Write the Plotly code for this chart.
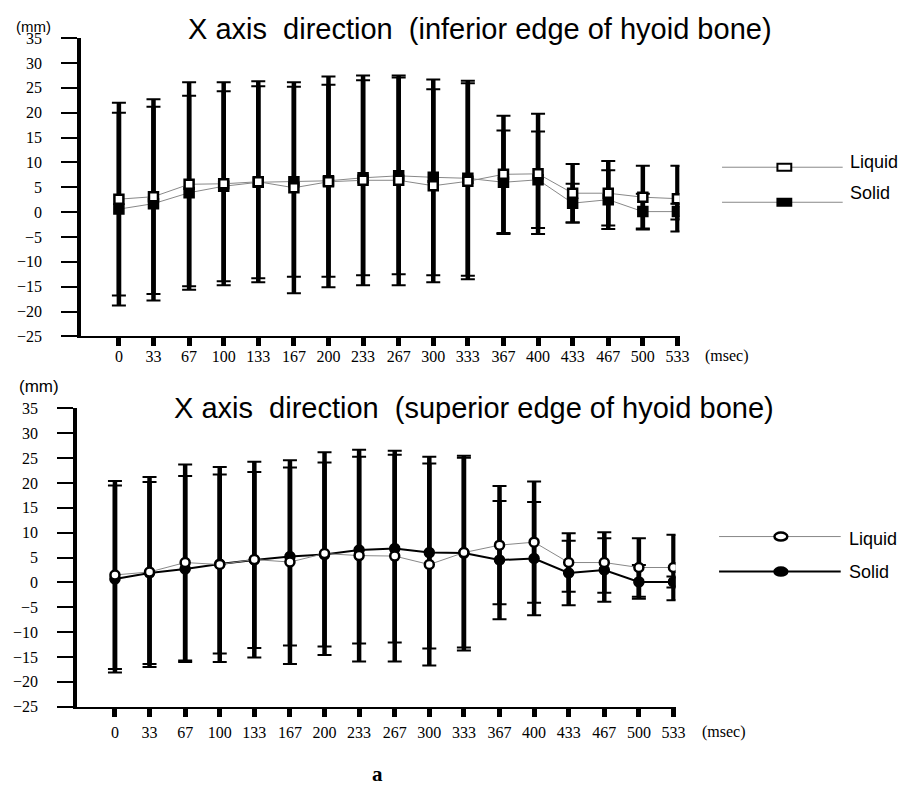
import plotly.graph_objects as go

W, H = 907, 785

time_ms = [0, 33, 67, 100, 133, 167, 200, 233, 267, 300, 333, 367, 400, 433, 467, 500, 533]
tick_labels = [str(t) for t in time_ms]
y_ticks = [-25, -20, -15, -10, -5, 0, 5, 10, 15, 20, 25, 30, 35]

# Top chart: inferior edge of hyoid bone
inf_liquid = [2.6, 3.1, 5.6, 5.7, 6.1, 4.9, 6.1, 6.4, 6.4, 5.3, 6.2, 7.6, 7.7, 3.8, 3.8, 3.0, 2.7]
inf_liquid_sd = [19.4, 19.6, 20.5, 20.4, 20.2, 21.2, 21.2, 21.1, 21.1, 19.4, 19.7, 11.8, 12.1, 5.9, 6.5, 6.3, 6.6]
inf_solid = [0.6, 1.7, 3.9, 5.2, 6.0, 6.1, 6.3, 6.9, 7.3, 7.0, 6.8, 6.0, 6.5, 1.8, 2.5, 0.1, 0.1]
inf_solid_sd = [19.4, 19.5, 19.5, 19.1, 19.3, 19.1, 19.3, 19.6, 19.8, 19.7, 19.6, 10.4, 9.7, 3.9, 5.9, 3.6, 1.6]

# Bottom chart: superior edge of hyoid bone
sup_liquid = [1.5, 2.1, 4.0, 3.6, 4.6, 4.1, 5.8, 5.4, 5.3, 3.6, 6.0, 7.5, 8.1, 4.0, 4.0, 3.0, 3.0]
sup_liquid_sd = [18.9, 19.1, 19.7, 19.6, 19.7, 20.5, 20.4, 21.3, 21.2, 20.3, 19.1, 11.9, 12.2, 5.9, 6.1, 5.9, 6.6]
sup_solid = [0.7, 1.9, 2.7, 3.7, 4.5, 5.2, 5.6, 6.5, 6.8, 6.0, 5.9, 4.5, 4.8, 1.9, 2.5, 0.1, 0.1]
sup_solid_sd = [18.8, 18.3, 18.7, 18.0, 17.7, 17.9, 18.5, 18.8, 18.9, 19.3, 19.6, 11.9, 11.4, 6.5, 6.4, 3.4, 1.1]

SERIF = "Liberation Serif, Times New Roman, serif"
SANS = "Liberation Sans, Arial, Helvetica, sans-serif"
NB = "\u00a0"


def px(x):
    return (x - 3) / W


def py(y):
    return 1 - ((y - 16.9) / 0.9775) / H


fig = go.Figure()


def add_panel(xa, ya, liq, liq_sd, sol, sol_sd, symbol, solid_line):
    # error bars first (underneath): thick stems, then thin caps
    for vals, sd in ((liq, liq_sd), (sol, sol_sd)):
        fig.add_trace(go.Scatter(
            x=time_ms, y=vals, mode="markers", xaxis=xa, yaxis=ya,
            marker=dict(size=1, color="rgba(0,0,0,0)"),
            error_y=dict(type="data", array=sd, visible=True, color="black",
                         thickness=4.5, width=0),
            showlegend=False, hoverinfo="skip"))
        fig.add_trace(go.Scatter(
            x=time_ms, y=vals, mode="markers", xaxis=xa, yaxis=ya,
            marker=dict(size=1, color="rgba(0,0,0,0)"),
            error_y=dict(type="data", array=sd, visible=True, color="black",
                         thickness=2, width=7),
            showlegend=False, hoverinfo="skip"))
    fig.add_trace(go.Scatter(
        x=time_ms, y=sol, mode="lines+markers", xaxis=xa, yaxis=ya, name="Solid",
        line=solid_line,
        marker=dict(symbol=symbol, size=10, color="black",
                    line=dict(color="black", width=1.5)),
        showlegend=False))
    fig.add_trace(go.Scatter(
        x=time_ms, y=liq, mode="lines+markers", xaxis=xa, yaxis=ya, name="Liquid",
        line=dict(color="#888888", width=1),
        marker=dict(symbol=symbol, size=9, color="white",
                    line=dict(color="black", width=2.5)),
        showlegend=False))


add_panel("x", "y", inf_liquid, inf_liquid_sd, inf_solid, inf_solid_sd,
          "square", dict(color="#888888", width=1))
add_panel("x2", "y2", sup_liquid, sup_liquid_sd, sup_solid, sup_solid_sd,
          "circle", dict(color="black", width=2))

xaxis_common = dict(range=[-36, 535], tickmode="array", tickvals=time_ms, ticktext=tick_labels,
                    showline=True, linecolor="black", linewidth=2, ticks="outside",
                    ticklen=8, tickwidth=5, tickcolor="black", showgrid=False, zeroline=False,
                    tickfont=dict(family=SERIF, size=16, color="black"))
yaxis_common = dict(range=[-25, 35], tickmode="array", tickvals=y_ticks,
                    showline=True, linecolor="black", linewidth=4, ticks="outside",
                    ticklen=16, tickwidth=1.5, tickcolor="black", showgrid=False, zeroline=False,
                    tickfont=dict(family=SERIF, size=16, color="black"), ticklabelstandoff=16)

fig.update_layout(
    width=W, height=H, margin=dict(l=0, r=0, t=0, b=0),
    paper_bgcolor="white", plot_bgcolor="white", showlegend=False,
    xaxis=dict(domain=[px(77), px(682)], anchor="y", ticklabelstandoff=-4, **xaxis_common),
    yaxis=dict(domain=[py(337), py(39)], anchor="x", **yaxis_common),
    xaxis2=dict(domain=[px(73), px(678)], anchor="y2", ticklabelstandoff=2, **xaxis_common),
    yaxis2=dict(domain=[py(707), py(409)], anchor="x2", **yaxis_common),
)

annotations = []
shapes = []


def text(x, y, s, size, family=SANS, xanchor="left", bold=False):
    annotations.append(dict(x=px(x), y=py(y), xref="paper", yref="paper", text=(f"<b>{s}</b>" if bold else s),
                            showarrow=False, xanchor=xanchor, yanchor="middle",
                            font=dict(family=family, size=size, color="black")))


title_top = f"X axis{NB}{NB}direction{NB}{NB}(inferior edge of hyoid bone)"
title_bot = f"X axis{NB}{NB}direction{NB}{NB}(superior edge of hyoid bone)"
text(480, 30, title_top, 29, xanchor="center")
text(474, 409, title_bot, 29, xanchor="center")
# top "(mm)" pinned to the very top of the figure
annotations.append(dict(x=px(9), y=1.0, xref="paper", yref="paper", text="(mm)",
                        showarrow=False, xanchor="left", yanchor="top",
                        font=dict(family=SANS, size=15, color="black")))
text(12, 387, "(mm)", 17)
text(706, 357, "(msec)", 16, family=SERIF)
text(703, 732, "(msec)", 16, family=SERIF)
text(377, 774, "a", 21, family=SERIF, xanchor="center", bold=True)

# legend, top (squares)
for yl, ytxt, label, fill in ((168, 163, "Liquid", "white"), (203, 194, "Solid", "black")):
    shapes.append(dict(type="line", xref="paper", yref="paper", x0=px(725), x1=px(847),
                       y0=py(yl), y1=py(yl), line=dict(color="#888888", width=1)))
    shapes.append(dict(type="rect", xref="paper", yref="paper", x0=px(781), x1=px(795),
                       y0=py(yl + 3.5), y1=py(yl - 3.5), fillcolor=fill,
                       line=dict(color="black", width=2)))
    text(852, ytxt, label, 18)

# legend, bottom (circles)
for yl, ytxt, label, fill, lc, lw in ((537, 539, "Liquid", "white", "#888888", 1),
                                      (572, 572, "Solid", "black", "black", 2)):
    shapes.append(dict(type="line", xref="paper", yref="paper", x0=px(722), x1=px(845),
                       y0=py(yl), y1=py(yl), line=dict(color=lc, width=lw)))
    shapes.append(dict(type="circle", xref="paper", yref="paper", x0=px(778), x1=px(791),
                       y0=py(yl + 4), y1=py(yl - 4), fillcolor=fill,
                       line=dict(color="black", width=2.5)))
    text(851, ytxt, label, 18)

fig.update_layout(annotations=annotations, shapes=shapes)
fig.write_html("out.html")
